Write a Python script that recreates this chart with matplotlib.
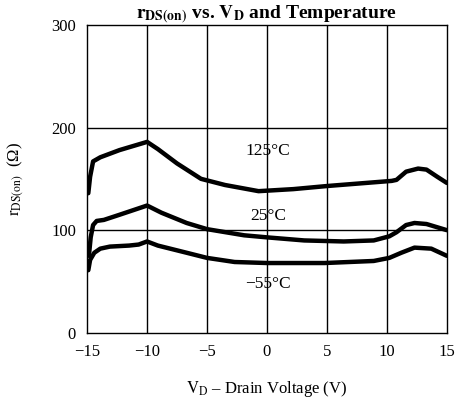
import numpy as np
import matplotlib
matplotlib.use("Agg")
import matplotlib.pyplot as plt

plt.rcParams['font.family'] = ['Liberation Serif', 'DejaVu Serif']
plt.rcParams['mathtext.fontset'] = 'stix'

# readings (V, ohm)
vd_125 = [-14.9, -14.75, -14.5, -13.9, -12.3, -10, -9.1, -7.5, -5.5, -3.5, -0.7, 2.2, 5, 10.4, 10.8, 11.6, 12.6, 13.3, 14.2, 15]
r_125 = [136, 152, 167, 171, 178, 186, 179, 165, 150, 144, 138, 140, 143, 148, 149, 157, 160, 159, 152, 146]

vd_25 = [-14.85, -14.7, -14.5, -14.2, -13.6, -12.3, -10, -8.8, -6.7, -5, -1.9, 0, 3.1, 6.4, 8.9, 10.2, 10.8, 11.6, 12.3, 13.3, 15]
r_25 = [75, 93, 105, 109, 110, 115, 124, 117, 107, 101, 95, 93, 90, 89, 90, 94, 98, 105, 107, 106, 100]

vd_m55 = [-14.9, -14.75, -14.4, -13.9, -13.1, -11.5, -10.7, -10, -9.1, -6.7, -5, -2.7, 0, 4.8, 8.9, 10.2, 11.2, 12.3, 13.7, 15]
r_m55 = [61, 71, 78, 82, 84, 85, 86, 89, 85, 78, 73, 69, 68, 68, 70, 73, 78, 83, 82, 75]

curve_labels = ['125°C', '25°C', '−55°C']
label_y = [177, 114, 48]

x_ticks = [-15, -10, -5, 0, 5, 10, 15]
y_ticks = [0, 100, 200, 300]

fig = plt.figure(figsize=(4.56, 4.01), dpi=100)
ax = fig.add_axes([0.191, 0.170, 0.789, 0.768])

for v in [-10, -5, 0, 5, 10]:
    ax.axvline(v, color='black', lw=1.0)
for r in [100, 200]:
    ax.axhline(r, color='black', lw=1.0)

ax.plot(vd_125, r_125, color='black', lw=3.2, solid_capstyle='round')
ax.plot(vd_25, r_25, color='black', lw=3.2, solid_capstyle='round')
ax.plot(vd_m55, r_m55, color='black', lw=3.2, solid_capstyle='round')

for t, y in zip(curve_labels, label_y):
    ax.text(0.1, y, t, ha='center', va='center', fontsize=12.5)

ax.set_xlim(-15, 15)
ax.set_ylim(0, 300)
ax.set_xticks(x_ticks)
ax.set_yticks(y_ticks)
ax.tick_params(length=0, labelsize=12, pad=8)
for s in ax.spines.values():
    s.set_linewidth(1.0)

ax.set_title(r'$\mathbf{r_{DS(on)}}$ vs. $\mathbf{V_D}$ and Temperature',
             fontsize=14, fontweight='bold', pad=5)
ax.set_xlabel(r'$\mathrm{V_D}$ – Drain Voltage (V)', fontsize=12, labelpad=14)
ax.set_ylabel(r'$\mathrm{r_{DS(on)}}$  (Ω)', fontsize=12, labelpad=18)

fig.savefig('out.png', dpi=100)
